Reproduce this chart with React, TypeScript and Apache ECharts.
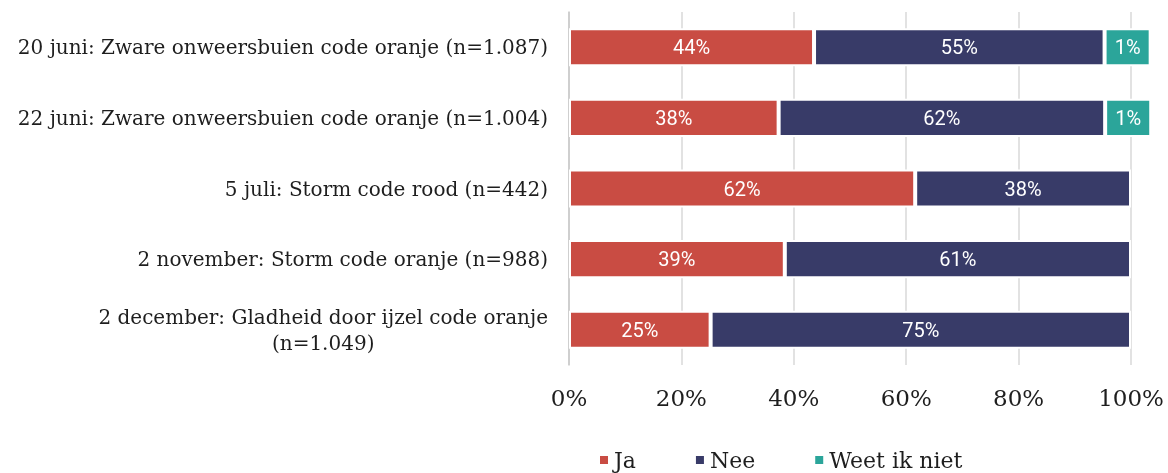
import React, { useEffect, useRef } from "react";
import * as echarts from "echarts";

const categories = [
  "20 juni: Zware onweersbuien code oranje (n=1.087)",
  "22 juni: Zware onweersbuien code oranje (n=1.004)",
  "5 juli: Storm code rood (n=442)",
  "2 november: Storm code oranje (n=988)",
  "2 december: Gladheid door ijzel code oranje\n(n=1.049)",
];
const seriesNames = ["Ja", "Nee", "Weet ik niet"];
// printed percentages
const jaPct = [44, 38, 62, 39, 25];
const neePct = [55, 62, 38, 61, 75];
const weetPct = [1, 1, null, null, null];
// drawn segment lengths (% of axis)
const jaBar = [43.6, 37.3, 61.6, 38.4, 25.2];
const neeBar = [51.7, 58.1, 38.4, 61.6, 74.8];
const weetBar = [8.2, 8.2, null, null, null];
const xTicks = [0, 20, 40, 60, 80, 100];

const colors = ["#C94C43", "#383B68", "#2BA59A"];
const serif = "'DejaVu Serif', serif";
const sans = "Roboto, 'Noto Sans', sans-serif";

export default function App() {
  const ref = useRef<HTMLDivElement>(null);
  useEffect(() => {
    if (!ref.current) return;
    const chart = echarts.init(ref.current, undefined, { renderer: "svg" });
    const bars = [jaBar, neeBar, weetBar];
    const pcts = [jaPct, neePct, weetPct];
    chart.setOption({
      animation: false,
      color: colors,
      grid: { left: 569, right: 37, top: 12, bottom: 108 },
      legend: {
        data: seriesNames,
        left: 593,
        top: 444,
        icon: "rect",
        itemWidth: 10,
        itemHeight: 10,
        itemGap: 58,
        textStyle: { fontFamily: serif, fontSize: 22, color: "#1e1e1e" },
      },
      xAxis: {
        type: "value",
        min: xTicks[0],
        max: xTicks[xTicks.length - 1],
        interval: 20,
        axisLine: { show: false },
        axisTick: { show: false },
        splitLine: { show: true, lineStyle: { color: "#d9d9d9", width: 1.5 } },
        axisLabel: {
          formatter: "{value}%",
          fontFamily: serif,
          fontSize: 23,
          color: "#1e1e1e",
          margin: 21,
        },
      },
      yAxis: {
        type: "category",
        inverse: true,
        data: categories,
        axisTick: { show: false },
        axisLine: { show: true, lineStyle: { color: "#c8c8c8", width: 1.5 } },
        axisLabel: {
          margin: 21,
          formatter: (v: string) =>
            v
              .split("\n")
              .map((l) => `{c|${l}}`)
              .join("\n"),
          rich: {
            c: {
              fontFamily: serif,
              fontSize: 20,
              color: "#1e1e1e",
              align: "center",
              lineHeight: 26,
            },
          },
        },
      },
      series: seriesNames.map((name, i) => ({
        name,
        type: "bar",
        stack: "total",
        clip: false,
        barWidth: "54%",
        data: bars[i],
        itemStyle: { borderColor: "#fff", borderWidth: 2 },
        label: {
          show: true,
          position: "inside",
          color: "#fff",
          fontFamily: sans,
          fontSize: 20,
          formatter: (p: any) =>
            pcts[i][p.dataIndex] == null ? "" : `${pcts[i][p.dataIndex]}%`,
        },
      })),
    });
    return () => chart.dispose();
  }, []);
  return (
    <div
      ref={ref}
      style={{ position: "fixed", left: 0, top: 0, width: 1168, height: 473 }}
    />
  );
}
